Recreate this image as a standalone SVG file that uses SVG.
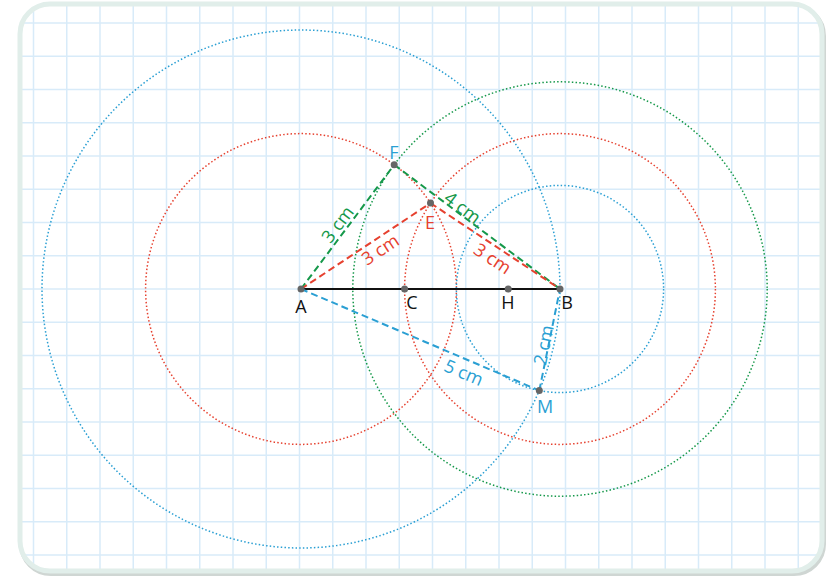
<svg xmlns="http://www.w3.org/2000/svg" width="827" height="576" viewBox="0 0 827 576">
<style>
.grid line{stroke:#d8ebf9;stroke-width:1.5}
.dot{stroke-width:1.5;stroke-dasharray:1.5 2.2;fill:none}
.dash{stroke-width:2;stroke-dasharray:7 4;fill:none}
.b{stroke:#2a9fd3}.r{stroke:#e6412f}.g{stroke:#15984a}
.lbl{font-family:"Open Sans","Noto Sans",sans-serif;font-size:18px;text-anchor:middle;dominant-baseline:central}
.pt{fill:#666}
</style>
<defs>
<clipPath id="clip"><rect x="20" y="4" width="802" height="567" rx="30"/></clipPath>
</defs>
<rect x="21" y="6" width="803" height="568" rx="30" fill="none" stroke="#cfd6d3" stroke-width="4"/>
<rect x="20" y="4" width="802" height="567" rx="30" fill="#fff"/>
<g class="grid" clip-path="url(#clip)">
<line x1="33.5" y1="0" x2="33.5" y2="576"/><line x1="66.75" y1="0" x2="66.75" y2="576"/><line x1="100" y1="0" x2="100" y2="576"/><line x1="133.25" y1="0" x2="133.25" y2="576"/><line x1="166.5" y1="0" x2="166.5" y2="576"/><line x1="199.75" y1="0" x2="199.75" y2="576"/><line x1="233" y1="0" x2="233" y2="576"/><line x1="266.25" y1="0" x2="266.25" y2="576"/><line x1="299.5" y1="0" x2="299.5" y2="576"/><line x1="332.75" y1="0" x2="332.75" y2="576"/><line x1="366" y1="0" x2="366" y2="576"/><line x1="399.25" y1="0" x2="399.25" y2="576"/><line x1="432.5" y1="0" x2="432.5" y2="576"/><line x1="465.75" y1="0" x2="465.75" y2="576"/><line x1="499" y1="0" x2="499" y2="576"/><line x1="532.25" y1="0" x2="532.25" y2="576"/><line x1="565.5" y1="0" x2="565.5" y2="576"/><line x1="598.75" y1="0" x2="598.75" y2="576"/><line x1="632" y1="0" x2="632" y2="576"/><line x1="665.25" y1="0" x2="665.25" y2="576"/><line x1="698.5" y1="0" x2="698.5" y2="576"/><line x1="731.75" y1="0" x2="731.75" y2="576"/><line x1="765" y1="0" x2="765" y2="576"/><line x1="798.25" y1="0" x2="798.25" y2="576"/>
<line x1="0" y1="23" x2="827" y2="23"/><line x1="0" y1="56.25" x2="827" y2="56.25"/><line x1="0" y1="89.5" x2="827" y2="89.5"/><line x1="0" y1="122.75" x2="827" y2="122.75"/><line x1="0" y1="156" x2="827" y2="156"/><line x1="0" y1="189.25" x2="827" y2="189.25"/><line x1="0" y1="222.5" x2="827" y2="222.5"/><line x1="0" y1="255.75" x2="827" y2="255.75"/><line x1="0" y1="289" x2="827" y2="289"/><line x1="0" y1="322.25" x2="827" y2="322.25"/><line x1="0" y1="355.5" x2="827" y2="355.5"/><line x1="0" y1="388.75" x2="827" y2="388.75"/><line x1="0" y1="422" x2="827" y2="422"/><line x1="0" y1="455.25" x2="827" y2="455.25"/><line x1="0" y1="488.5" x2="827" y2="488.5"/><line x1="0" y1="521.75" x2="827" y2="521.75"/><line x1="0" y1="555" x2="827" y2="555"/>
</g>
<rect x="20" y="4" width="802" height="567" rx="30" fill="none" stroke="#e1eeea" stroke-width="5"/>
<g id="circles">
<circle class="dot b" cx="301" cy="289" r="259"/>
<circle class="dot r" cx="301" cy="289" r="155.4"/>
<circle class="dot g" cx="560" cy="289" r="207.2"/>
<circle class="dot r" cx="560" cy="289" r="155.4"/>
<circle class="dot b" cx="560" cy="289" r="103.6"/>
</g>
<g id="connectors">
<line x1="301" y1="289" x2="560" y2="289" stroke="#111" stroke-width="2"/>
<line class="dash g" x1="301" y1="289" x2="394.2" y2="164.7"/>
<line class="dash g" x1="394.2" y1="164.7" x2="560" y2="289"/>
<line class="dash r" x1="301" y1="289" x2="430.5" y2="203.1"/>
<line class="dash r" x1="430.5" y1="203.1" x2="560" y2="289"/>
<line class="dash b" x1="301" y1="289" x2="539.3" y2="390.5"/>
<line class="dash b" x1="539.3" y1="390.5" x2="560" y2="289"/>
</g>
<g id="A"><circle class="pt" cx="301" cy="289" r="3.5"/><text class="lbl" x="301" y="306" fill="#111">A</text></g>
<g id="B"><circle class="pt" cx="560" cy="289" r="3.5"/><text class="lbl" x="567" y="302" fill="#111">B</text></g>
<g id="C"><circle class="pt" cx="404.6" cy="289" r="3.5"/><text class="lbl" x="412" y="302" fill="#111">C</text></g>
<g id="H"><circle class="pt" cx="508.2" cy="289" r="3.5"/><text class="lbl" x="508" y="302" fill="#111">H</text></g>
<g id="F"><circle class="pt" cx="394.2" cy="164.7" r="3.5"/><text class="lbl" x="394" y="152" fill="#2a9fd3">F</text></g>
<g id="E"><circle class="pt" cx="430.5" cy="203.1" r="3.5"/><text class="lbl" x="430" y="222" fill="#e6412f">E</text></g>
<g id="M"><circle class="pt" cx="539.3" cy="390.5" r="3.5"/><text class="lbl" x="545" y="406" fill="#2a9fd3">M</text></g>
<g id="labels">
<text class="lbl" fill="#15984a" transform="translate(337,224) rotate(-53.1)">3 cm</text>
<text class="lbl" fill="#e6412f" transform="translate(380,249) rotate(-33.6)">3 cm</text>
<text class="lbl" fill="#15984a" transform="translate(463,207) rotate(36.9)">4 cm</text>
<text class="lbl" fill="#e6412f" transform="translate(493,258) rotate(33.6)">3 cm</text>
<text class="lbl" fill="#2a9fd3" transform="translate(464,372) rotate(23)">5 cm</text>
<text class="lbl" fill="#2a9fd3" transform="translate(543,345) rotate(-78.4)">2 cm</text>
</g>
</svg>
